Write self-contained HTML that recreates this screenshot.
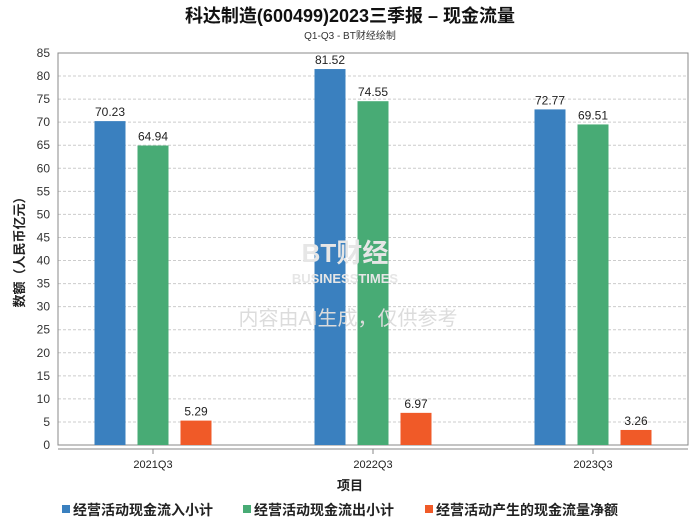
<!DOCTYPE html>
<html><head><meta charset="utf-8"><style>
body{margin:0;background:#fff;}
text{font-family:"Liberation Sans","Noto Sans CJK SC",sans-serif;}
</style></head><body>
<svg id="chart" width="700" height="524" xmlns="http://www.w3.org/2000/svg">
<rect width="700" height="524" fill="#fff"/>
<text x="350" y="22" text-anchor="middle" font-size="18" font-weight="bold" fill="#111">科达制造(600499)2023三季报 – 现金流量</text>
<text x="350" y="39" text-anchor="middle" font-size="10" fill="#333">Q1-Q3 - BT财经绘制</text>
<g id="grid"></g>
<rect x="58" y="53" width="630" height="392" fill="none" stroke="#888"/>
<g id="bars"></g>
<text x="345" y="262" text-anchor="middle" font-size="26" fill="#e6e6e6" font-weight="bold">BT财经</text>
<text x="345" y="283" text-anchor="middle" font-size="13" fill="#e6e6e6" font-weight="bold">BUSINESSTIMES</text>
<text x="348" y="325" text-anchor="middle" font-size="20" fill="#dcdcdc">内容由AI生成，仅供参考</text>
<line x1="58" y1="449" x2="688" y2="449" stroke="#888"/>
<g id="xaxis"></g>
<text x="350" y="490" text-anchor="middle" font-size="13" font-weight="bold" fill="#222">项目</text>
<text transform="translate(24,249) rotate(-90)" text-anchor="middle" font-size="13" font-weight="bold" fill="#222">数额（人民币亿元）</text>
<g id="legend"></g>
</svg>
<script>
const categories=["2021Q3","2022Q3","2023Q3"];
const inflow=[70.23,81.52,72.77];
const outflow=[64.94,74.55,69.51];
const net=[5.29,6.97,3.26];
const seriesNames=["经营活动现金流入小计","经营活动现金流出小计","经营活动产生的现金流量净额"];
const yTicks=[0,5,10,15,20,25,30,35,40,45,50,55,60,65,70,75,80,85];
const colors=["#3a80bf","#48ab75","#f05a28"];
const NS="http://www.w3.org/2000/svg";
const y=v=>445-v*392/85;
const xc=i=>153+i*220;
function mk(tag,attrs,parent,txt){const e=document.createElementNS(NS,tag);for(const k in attrs)e.setAttribute(k,attrs[k]);if(txt!==undefined)e.textContent=txt;parent.appendChild(e);return e;}
const grid=document.getElementById('grid');
yTicks.forEach(t=>{
  if(t>0){const l=mk('line',{x1:58,x2:688,y1:y(t),y2:y(t),stroke:'#ccc','stroke-dasharray':'3,2'},grid);
  
  }
  const tx=mk('text',{x:50,y:y(t)+4,'text-anchor':'end','font-size':12,fill:'#333'},grid,t);
  
  
});
const bars=document.getElementById('bars');
[inflow,outflow,net].forEach((s,si)=>{
  s.forEach((v,i)=>{
    const x=xc(i)+(si-1)*43-15.5;
    const r=mk('rect',{x:x,y:y(v),width:31,height:445-y(v),fill:colors[si]},bars);
    
    
    const t=mk('text',{x:x+15.5,y:y(v)-5,'text-anchor':'middle','font-size':12,fill:'#222'},bars,v.toFixed(2));
    
    
  });
});
const xa=document.getElementById('xaxis');
categories.forEach((c,i)=>{
  mk('line',{x1:xc(i),x2:xc(i),y1:449,y2:454,stroke:'#888'},xa);
  const t=mk('text',{x:xc(i),y:468,'text-anchor':'middle','font-size':11,fill:'#222'},xa,c);
  
  
});
const lg=document.getElementById('legend');
const lx=[62,243,425];
seriesNames.forEach((n,i)=>{
  const g=mk('g',{},lg);
  
  
  mk('rect',{x:lx[i],y:505,width:8,height:8,fill:colors[i]},g);
  mk('text',{x:lx[i]+11,y:515,'font-size':14,'font-weight':'bold',fill:'#222'},g,n);
});
</script>
</body></html>
